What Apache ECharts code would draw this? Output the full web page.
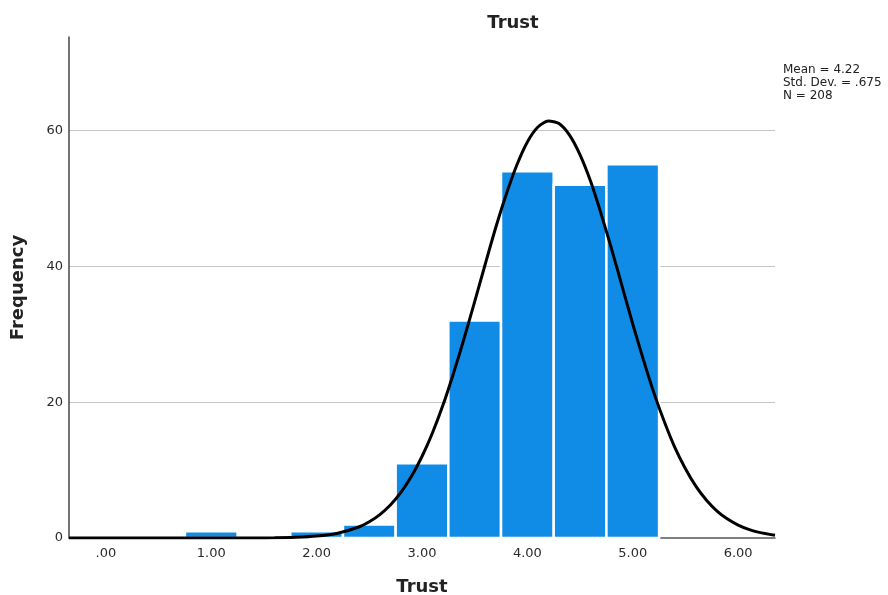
<!DOCTYPE html>
<html><head><meta charset="utf-8">
<script src="https://cdn.jsdelivr.net/npm/echarts@6/dist/echarts.min.js"></script>
<style>html,body{margin:0;padding:0;background:#fff}#c{width:888px;height:595px}</style>
</head><body><div id="c"></div>
<script>
// Histogram bins (centers) and frequencies
const binCenters = [1.0, 2.0, 2.5, 3.0, 3.5, 4.0, 4.5, 5.0];
const frequencies = [1, 1, 2, 11, 32, 54, 52, 55];
const binWidth = 0.5;
// Normal curve points
const curveX = [-0.35, 0.6, 1.4, 1.6, 1.8, 2.0, 2.2, 2.4, 2.5, 2.6, 2.7, 2.8, 2.9, 3.0, 3.1, 3.2, 3.3, 3.4, 3.5, 3.6, 3.7, 3.8, 3.9, 4.0, 4.1, 4.2, 4.3, 4.4, 4.5, 4.6, 4.7, 4.8, 4.9, 5.0, 5.1, 5.2, 5.3, 5.4, 5.5, 5.6, 5.7, 5.8, 5.9, 6.0, 6.1, 6.2, 6.35];
const curveY = [0, 0, 0.01, 0.03, 0.10, 0.28, 0.70, 1.62, 2.39, 3.45, 4.87, 6.72, 9.08, 12.0, 15.5, 19.6, 24.3, 29.4, 34.8, 40.3, 45.7, 50.6, 54.9, 58.3, 60.5, 61.4, 61.0, 59.3, 56.4, 52.5, 47.7, 42.5, 37.0, 31.5, 26.3, 21.4, 17.1, 13.3, 10.2, 7.6, 5.56, 3.97, 2.78, 1.90, 1.27, 0.83, 0.42];
const xTickValues = [0, 1, 2, 3, 4, 5, 6];
const xTickLabels = ['.00', '1.00', '2.00', '3.00', '4.00', '5.00', '6.00'];
const statLines = ['Mean = 4.22', 'Std. Dev. = .675', 'N = 208'];

const font = 'DejaVu Sans';
const chart = echarts.init(document.getElementById('c'), null, {renderer: 'canvas'});
chart.setOption({
  animation: false,
  backgroundColor: '#fff',
  grid: {left: 69, right: 113, top: 37, bottom: 57, containLabel: false, outerBoundsMode: 'none'},
  xAxis: {
    type: 'value', min: -0.35, max: 6.35,
    name: 'Trust', nameLocation: 'middle', nameGap: 40,
    nameTextStyle: {fontFamily: font, fontWeight: 'bold', fontSize: 18, color: '#222'},
    axisLine: {show: true, onZero: false, lineStyle: {color: '#555', width: 1.5}},
    axisTick: {show: false},
    splitLine: {show: false},
    axisLabel: {
      customValues: xTickValues, margin: 9,
      fontFamily: font, fontSize: 13, color: '#2a2a2a',
      formatter: v => { const i = xTickValues.indexOf(Math.round(v)); return i >= 0 ? xTickLabels[i] : ''; }
    }
  },
  yAxis: {
    type: 'value', min: 0, max: 73.75, interval: 20,
    name: 'Frequency', nameLocation: 'middle', nameGap: 42, nameRotate: 90,
    nameTextStyle: {fontFamily: font, fontWeight: 'bold', fontSize: 18, color: '#222'},
    axisLine: {show: true, onZero: false, lineStyle: {color: '#444', width: 1.5}},
    axisTick: {show: false},
    axisLabel: {showMaxLabel: false, margin: 6, fontFamily: font, fontSize: 13, color: '#2a2a2a',
      formatter: v => (v % 20 === 0 ? String(v) : '')},
    splitLine: {show: true, showMinLine: false, showMaxLine: false, lineStyle: {color: '#c4c4c4', width: 1}}
  },
  series: [
    {
      type: 'custom',
      data: binCenters.map((c, i) => [c, frequencies[i]]),
      renderItem: function (params, api) {
        const c = api.value(0), f = api.value(1);
        const p0 = api.coord([c - binWidth / 2, f]);
        const p1 = api.coord([c + binWidth / 2, 0]);
        return {
          type: 'rect',
          shape: {x: p0[0], y: p0[1], width: p1[0] - p0[0], height: p1[1] - p0[1]},
          style: {fill: '#118ce6', stroke: '#ffffff', lineWidth: 2.5}
        };
      },
      z: 2
    },
    {
      type: 'line',
      data: curveX.map((x, i) => [x, curveY[i]]),
      smooth: 0.25,
      showSymbol: false,
      lineStyle: {color: '#000', width: 3},
      z: 3
    }
  ],
  graphic: [
    {type: 'text', x: 513, y: 23, style: {text: 'Trust', font: 'bold 18px "DejaVu Sans"', fill: '#222', textAlign: 'center', textVerticalAlign: 'middle'}},
    {type: 'text', left: 783, top: 63, style: {text: statLines.join('\n'), font: '12px "DejaVu Sans"', lineHeight: 13, fill: '#222'}}
  ]
});
</script></body></html>
